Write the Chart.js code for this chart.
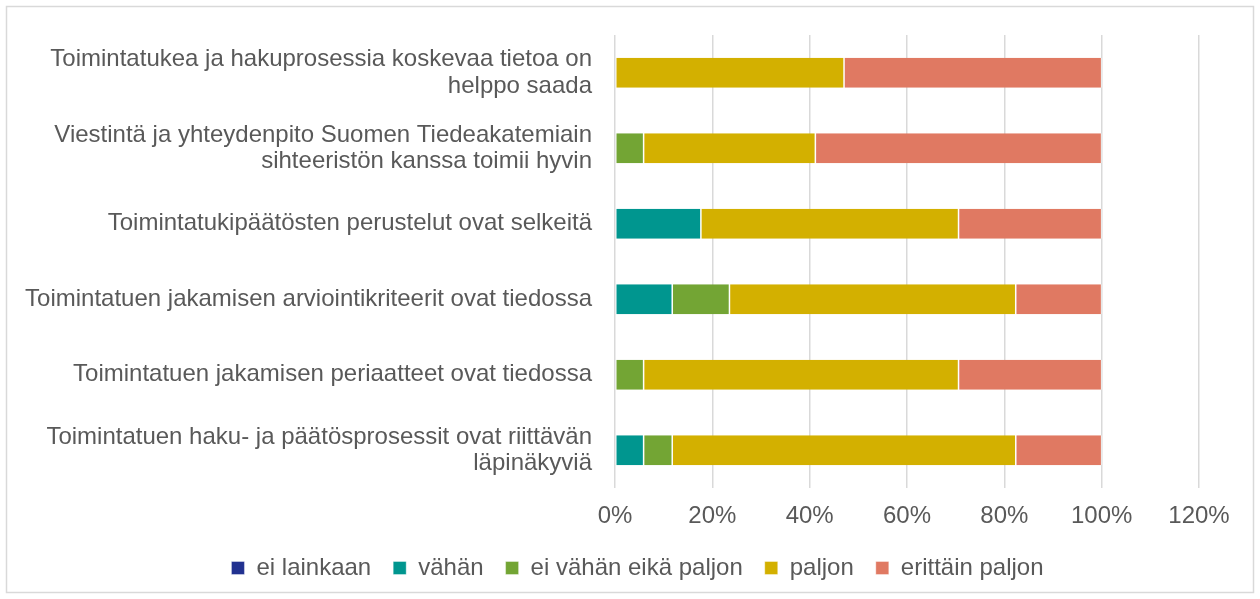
<!DOCTYPE html>
<html><head><meta charset="utf-8">
<script src="https://cdn.jsdelivr.net/npm/chart.js@4/dist/chart.umd.min.js"></script>
<style>html,body{margin:0;padding:0;background:#fff}#wrap{width:1260px;height:599px;position:relative}</style>
</head><body><div id="wrap"><canvas id="c" width="1260" height="599"></canvas></div>
<script>
const categories = [
  ["Toimintatukea ja hakuprosessia koskevaa tietoa on","helppo saada"],
  ["Viestintä ja yhteydenpito Suomen Tiedeakatemiain","sihteeristön kanssa toimii hyvin"],
  "Toimintatukipäätösten perustelut ovat selkeitä",
  "Toimintatuen jakamisen arviointikriteerit ovat tiedossa",
  "Toimintatuen jakamisen periaatteet ovat tiedossa",
  ["Toimintatuen haku- ja päätösprosessit ovat riittävän","läpinäkyviä"]
];
const seriesNames = ["ei lainkaan","vähän","ei vähän eikä paljon","paljon","erittäin paljon"];
const eiLainkaan = [0, 0, 0, 0, 0, 0];
const vahan = [0, 0, 17.65, 11.76, 0, 5.88];
const eiVahanEikaPaljon = [0, 5.88, 0, 11.76, 5.88, 5.88];
const paljon = [47.06, 35.29, 52.94, 58.82, 64.71, 70.59];
const erittainPaljon = [52.94, 58.82, 29.41, 17.65, 29.41, 17.65];
const xTicks = [0, 20, 40, 60, 80, 100, 120];

const colors = ["#213190", "#00968F", "#73A534", "#D3B000", "#E07962"];
const values = [eiLainkaan, vahan, eiVahanEikaPaljon, paljon, erittainPaljon];
const FONT = 'Liberation Sans, Arial, sans-serif';

const borderPlugin = {
  id: 'outerBorder',
  afterLayout(chart) {
    const lg = chart.legend;
    if (lg) { lg.left += 38; lg.right += 38; }
    const sx = chart.scales.x;
    if (sx) { sx.bottom += 30; }
  },
  afterDraw(chart) {
    const ctx = chart.ctx;
    ctx.save();
    ctx.strokeStyle = '#d9d9d9';
    ctx.lineWidth = 1.5;
    ctx.strokeRect(6.5, 6.5, 1247, 586);
    ctx.restore();
  }
};

new Chart(document.getElementById('c'), {
  type: 'bar',
  data: {
    labels: categories,
    datasets: seriesNames.map((n, i) => ({
      label: n,
      data: values[i],
      backgroundColor: colors[i],
      borderColor: '#ffffff',
      borderWidth: {left: 0.75, right: 0.75, top: 0, bottom: 0},
      borderSkipped: false,
      categoryPercentage: 1.0,
      barPercentage: 0.4
    }))
  },
  options: {
    indexAxis: 'y',
    responsive: false,
    animation: false,
    devicePixelRatio: 1,
    layout: { padding: { top: 35, right: 61, bottom: 9, left: 0 } },
    scales: {
      x: {
        stacked: true,
        min: 0, max: 120,
        afterBuildTicks(axis) { axis.ticks = xTicks.map(v => ({value: v})); },
        afterFit(axis) { axis.paddingLeft = 0; axis.paddingRight = 0; axis.height = 46; },
        ticks: {
          callback: v => v + '%',
          color: '#595959',
          font: { family: FONT, size: 24 },
          padding: 14,
          maxRotation: 0
        },
        grid: { color: '#d9d9d9', lineWidth: 1.5, drawTicks: false },
        border: { display: false }
      },
      y: {
        stacked: true,
        afterFit(axis) { axis.width = 615; axis.paddingTop = 0; axis.paddingBottom = 0; },
        ticks: {
          color: '#595959',
          font: { family: FONT, size: 24, lineHeight: 1.1 },
          padding: 23,
          autoSkip: false
        },
        grid: { display: false, drawTicks: false },
        border: { display: false }
      }
    },
    plugins: {
      legend: {
        position: 'bottom',
        labels: {
          boxWidth: 13, boxHeight: 13,
          color: '#595959',
          font: { family: FONT, size: 24 },
          padding: 22
        }
      },
      tooltip: { enabled: false }
    }
  },
  plugins: [borderPlugin]
});
</script></body></html>
